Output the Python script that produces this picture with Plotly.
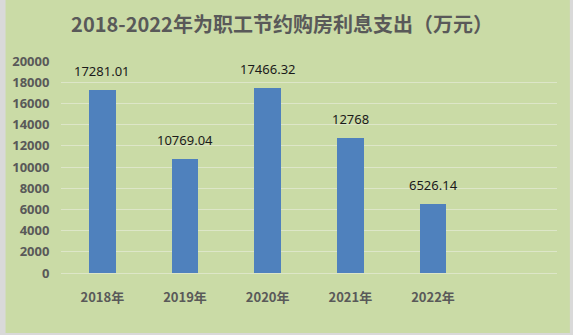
import plotly.graph_objects as go

title = "2018-2022年为职工节约购房利息支出（万元）"
categories = ["2018年", "2019年", "2020年", "2021年", "2022年"]
values = [17281.01, 10769.04, 17466.32, 12768, 6526.14]
labels = ["17281.01", "10769.04", "17466.32", "12768", "6526.14"]
y_ticks = list(range(0, 20001, 2000))

W, H = 573, 335
L, R, T, B = 56, 16, 61, 62

xs = list(range(len(categories)))
fig = go.Figure(go.Bar(
    x=xs, y=values,
    width=0.32,
    marker=dict(color="#4f81bd", line=dict(width=0)),
))
for xi, v, lab in zip(xs, values, labels):
    fig.add_annotation(x=xi, y=v, text=lab, showarrow=False,
                       yanchor="bottom", yshift=8,
                       font=dict(family="Noto Sans", size=13, color="#1a1a1a"))

pw = W - L - R
ph = H - T - B
fig.add_shape(type="rect", xref="paper", yref="paper",
              x0=-L / pw, x1=(W - L - 3) / pw,
              y0=-(B - 2) / ph, y1=(H - T) / ph,
              fillcolor="#cadba6", line=dict(width=0), layer="below")

fig.update_layout(
    width=W, height=H,
    margin=dict(l=L, r=R, t=T, b=B),
    paper_bgcolor="#d9d9d9",
    plot_bgcolor="rgba(0,0,0,0)",
    showlegend=False,
    title=dict(text="<b>" + title + "</b>", x=282 / W, xanchor="center",
               y=1 - 25 / H, yanchor="middle",
               font=dict(family="Noto Sans CJK SC", size=20, color="#595959")),
    bargap=0,
)
fig.update_xaxes(
    range=[-0.5, 5.5],
    tickvals=xs,
    ticktext=["<b>" + c + "</b>" for c in categories],
    tickfont=dict(family="Noto Sans CJK SC", size=13, color="#595959"),
    showgrid=False, zeroline=False,
    showline=True, linecolor="#dde6c8", linewidth=1,
    ticks="outside", ticklen=12, tickcolor="rgba(0,0,0,0)",
)
fig.update_yaxes(
    range=[0, 20000],
    tickvals=y_ticks,
    ticktext=["<b>%d</b>" % v for v in y_ticks],
    tickfont=dict(family="Noto Sans", size=13, color="#595959"),
    showgrid=True, gridcolor="#dde6c8", gridwidth=1,
    zeroline=False,
    ticks="outside", ticklen=8, tickcolor="rgba(0,0,0,0)",
)

fig.write_html("out.html")
